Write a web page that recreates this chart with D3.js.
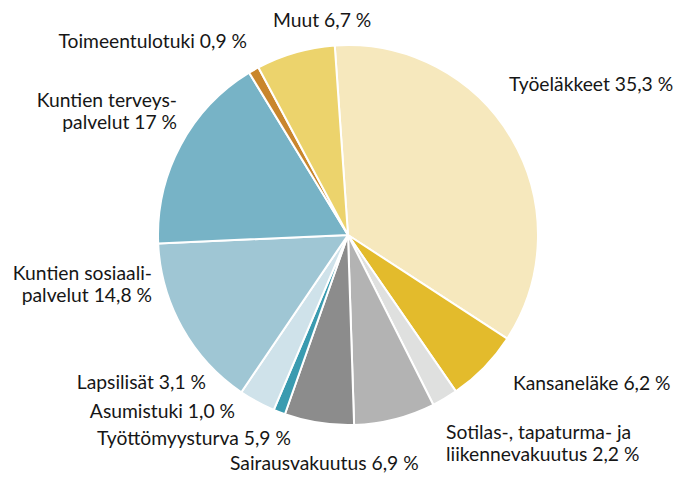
<!DOCTYPE html>
<html lang="fi">
<head>
<meta charset="utf-8">
<title>Pie</title>
<style>
  body { margin: 0; background: #fff; }
  text { font-family: Lato, "Open Sans", sans-serif; font-size: 19.3px; fill: #161616; }
</style>
<script src="https://d3js.org/d3.v7.min.js"></script>
</head>
<body>
<script>
// data, clockwise from the top
var names = ["Työeläkkeet", "Kansaneläke", "Sotilas-, tapaturma- ja liikennevakuutus", "Sairausvakuutus",
  "Työttömyysturva", "Asumistuki", "Lapsilisät", "Kuntien sosiaalipalvelut", "Kuntien terveyspalvelut",
  "Toimeentulotuki", "Muut"];
var values = [35.3, 6.2, 2.2, 6.9, 5.9, 1.0, 3.1, 14.8, 17, 0.9, 6.7];
var labelLines = [
  ["Työeläkkeet 35,3 %"],
  ["Kansaneläke 6,2 %"],
  ["Sotilas-, tapaturma- ja", "liikennevakuutus 2,2 %"],
  ["Sairausvakuutus 6,9 %"],
  ["Työttömyysturva 5,9 %"],
  ["Asumistuki 1,0 %"],
  ["Lapsilisät 3,1 %"],
  ["Kuntien sosiaali-", "palvelut 14,8 %"],
  ["Kuntien terveys-", "palvelut 17 %"],
  ["Toimeentulotuki 0,9 %"],
  ["Muut 6,7 %"]
];

var colors = ["#f6e8bd", "#e3bb2c", "#dfe0df", "#b3b3b3", "#8c8c8c", "#3a9bb0",
  "#cfe2ea", "#9fc6d4", "#77b3c6", "#c9862c", "#ecd36c"];

// label placement: [x, y of first baseline, anchor]
var labelPos = [
  [509, 91, "start"],
  [513, 390, "start"],
  [446, 439, "start"],
  [230, 470, "start"],
  [97, 445, "start"],
  [235, 418, "end"],
  [206, 389, "end"],
  [152, 280, "end"],
  [177, 107, "end"],
  [247, 48, "end"],
  [273, 27, "start"]
];

var w = 678, h = 479;
var cx = 348, cy = 235, r = 190;
var startA = -4 * Math.PI / 180;

var svg = d3.select("body").append("svg")
  .attr("width", w)
  .attr("height", h);

var pie = d3.pie()
  .sort(null)
  .startAngle(startA)
  .endAngle(startA + 2 * Math.PI);

var arc = d3.arc().innerRadius(0).outerRadius(r);

var g = svg.append("g").attr("transform", "translate(" + cx + "," + cy + ")");

g.selectAll("path")
  .data(pie(values))
  .enter()
  .append("path")
  .attr("d", arc)
  .attr("fill", (d, i) => colors[i])
  .attr("stroke", "#fff")
  .attr("stroke-width", 2)
  .attr("stroke-linejoin", "round");

var labels = svg.selectAll("text.lbl")
  .data(names)
  .enter()
  .append("text")
  .attr("class", "lbl")
  .attr("x", (d, i) => labelPos[i][0])
  .attr("y", (d, i) => labelPos[i][1])
  .attr("text-anchor", (d, i) => labelPos[i][2]);

labels.each(function (d, i) {
  var t = d3.select(this);
  labelLines[i].forEach(function (line, j) {
    t.append("tspan")
      .attr("x", labelPos[i][0])
      .attr("dy", j === 0 ? 0 : 22)
      .text(line);
  });
});
</script>
</body>
</html>
